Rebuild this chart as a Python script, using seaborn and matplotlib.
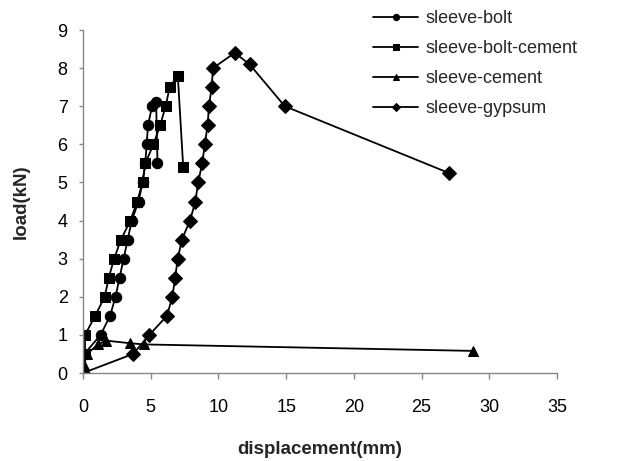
import pandas as pd
import matplotlib
matplotlib.use('Agg')
import matplotlib.pyplot as plt
import seaborn as sns

# load-displacement data
bolt_x = [0, 0.1, 1.3, 2.0, 2.4, 2.7, 3.0, 3.3, 3.6, 4.1, 4.4, 4.6, 4.7, 4.8, 5.1, 5.4, 5.5]
bolt_y = [0, 0.5, 1.0, 1.5, 2.0, 2.5, 3.0, 3.5, 4.0, 4.5, 5.0, 5.5, 6.0, 6.5, 7.0, 7.1, 5.5]

bolt_cement_x = [0, 0.15, 0.15, 0.9, 1.6, 1.9, 2.3, 2.8, 3.5, 4.0, 4.4, 4.6, 5.2, 5.7, 6.1, 6.4, 7.0, 7.4]
bolt_cement_y = [0, 0.5, 1.0, 1.5, 2.0, 2.5, 3.0, 3.5, 4.0, 4.5, 5.0, 5.5, 6.0, 6.5, 7.0, 7.5, 7.8, 5.4]

cement_x = [0, 0.05, 0.3, 1.1, 1.7, 3.5, 4.5, 28.8]
cement_y = [0, 0.2, 0.5, 0.75, 0.85, 0.78, 0.75, 0.58]

gypsum_x = [0, 3.7, 4.9, 6.2, 6.6, 6.8, 7.0, 7.3, 7.9, 8.3, 8.5, 8.8, 9.0, 9.2, 9.3, 9.5, 9.6,
            11.2, 12.3, 14.9, 27.0]
gypsum_y = [0, 0.5, 1.0, 1.5, 2.0, 2.5, 3.0, 3.5, 4.0, 4.5, 5.0, 5.5, 6.0, 6.5, 7.0, 7.5, 8.0,
            8.4, 8.1, 7.0, 5.25]

names = ['sleeve-bolt', 'sleeve-bolt-cement', 'sleeve-cement', 'sleeve-gypsum']
markers = ['o', 's', '^', 'D']

# long table for seaborn, one row per measured point
frames = []
for name, xs, ys in zip(names,
                        [bolt_x, bolt_cement_x, cement_x, gypsum_x],
                        [bolt_y, bolt_cement_y, cement_y, gypsum_y]):
    part = pd.DataFrame({'displacement': xs, 'load': ys})
    part['series'] = name
    frames.append(part)
df = pd.concat(frames, ignore_index=True)

sns.set_style('white')
plt.rcParams['font.family'] = ['Liberation Sans', 'DejaVu Sans']

fig = plt.figure(figsize=(6.21, 4.61), dpi=100)
ax = fig.add_axes([83 / 621, 1 - 373 / 461, (557 - 83) / 621, (373 - 30) / 461])

sns.lineplot(data=df, x='displacement', y='load', hue='series', style='series',
             estimator=None, sort=False,
             palette=['black'] * 4, markers=markers, dashes=False,
             markersize=7.5, markeredgecolor='black', linewidth=1.3, ax=ax)

ax.set_xlim(0, 35)
ax.set_ylim(0, 9)
ax.set_xticks(range(0, 36, 5))
ax.set_yticks(range(0, 10))
ax.tick_params(axis='both', labelsize=13, colors='black', length=4, width=1,
               direction='out', pad=8)
ax.tick_params(axis='x', color='#888888', pad=15)
ax.tick_params(axis='y', color='#888888', length=3)
ax.xaxis.set_ticks_position('bottom')
ax.yaxis.set_ticks_position('left')
for side in ['top', 'right']:
    ax.spines[side].set_visible(False)
for side in ['left', 'bottom']:
    ax.spines[side].set_color('#888888')
    ax.spines[side].set_linewidth(1)

ax.set_xlabel('displacement(mm)', fontsize=13.5, fontweight='bold', labelpad=18)
ax.set_ylabel('load(kN)', fontsize=13.5, fontweight='bold', labelpad=20)

handles, labels = ax.get_legend_handles_labels()
ax.legend(handles, labels, loc='upper left', bbox_to_anchor=(373 / 621, 1 - 10 / 461),
          bbox_transform=fig.transFigure, frameon=False, fontsize=13,
          markerscale=0.6, handlelength=2.5, handletextpad=0.4,
          labelspacing=0.72, borderpad=0, borderaxespad=0)

fig.savefig('out.png', dpi=100)
